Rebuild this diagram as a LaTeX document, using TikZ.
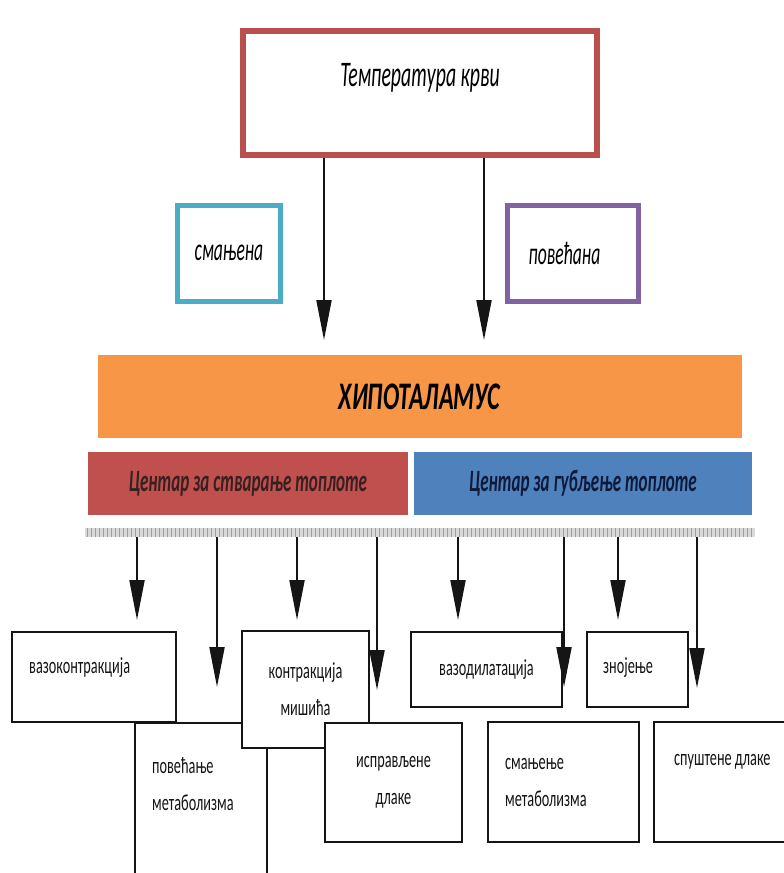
\documentclass[tikz,border=0pt]{standalone}
\usepackage{fontspec}
\setmainfont{Carlito}[FakeStretch=0.62]
\newfontfamily\narrowfont{Carlito}[FakeStretch=0.55]
\usepackage{tikz}
\usetikzlibrary{arrows.meta,calc,positioning}
\definecolor{ink}{HTML}{151515}
\definecolor{bloodred}{HTML}{B9504E}
\definecolor{teal}{HTML}{4BACC6}
\definecolor{purple}{HTML}{8064A2}
\definecolor{hypo}{HTML}{F79646}
\definecolor{heat}{HTML}{C0504D}
\definecolor{cool}{HTML}{4F81BD}
\definecolor{navy}{HTML}{0E1A3A}

\begin{document}
\begin{tikzpicture}[x=1pt,y=-1pt,
    outbox/.style={draw=ink,line width=1.8pt,fill=white,inner sep=0pt},
    arr/.style={-{Triangle[length=40pt,width=15pt]},line width=2pt,ink},
    btext/.style={font=\fontsize{23}{37}\selectfont,text=ink,inner sep=0pt}]
        \useasboundingbox (0,0) rectangle (784,873);
        % blood temperature and its two cases
        \node[draw=bloodred,line width=6pt,fill=white,minimum width=354,minimum height=124] (temp) at (420,93) {};
        \node[font=\narrowfont\itshape\fontsize{36}{40}\selectfont] (temp-t) at (420,78) {Температура крви};
        \node[draw=teal,line width=5pt,minimum width=103,minimum height=96,font=\narrowfont\itshape\fontsize{32}{36}\selectfont] (low) at (229,253) {смањена};
        \node[draw=purple,line width=5pt,minimum width=131,minimum height=96,font=\narrowfont\itshape\fontsize{32}{36}\selectfont] (high) at (572.5,253) {\hspace*{-16pt}повећана};
        \coordinate (t1) at (324,340);
        \coordinate (t2) at (484,340);
        \draw[arr] (temp.south -| t1) -- (t1);
        \draw[arr] (temp.south -| t2) -- (t2);
        % hypothalamus and its centres
        \node[fill=hypo,minimum width=644,minimum height=83,font=\bfseries\itshape\fontsize{39}{42}\selectfont] (hyp) at (419.5,396.5) {ХИПОТАЛАМУС};
        \node[fill=heat,minimum width=320,minimum height=63,text=ink!80!heat,font=\narrowfont\bfseries\itshape\fontsize{31}{34}\selectfont] (gain) at (248,483.5) {Центар за стварање топлоте};
        \node[fill=cool,minimum width=338,minimum height=63,text=navy,font=\narrowfont\bfseries\itshape\fontsize{31}{34}\selectfont] (loss) at (583,483.5) {Центар за губљење топлоте};
        \node[fill=gray!30,minimum width=670,minimum height=9,inner sep=0pt] (bar) at (420,532.5) {};
        \foreach \x in {87,91,...,753}
          \draw[gray!75,line width=0.8pt] (\x,528) -- (\x,537);
        % responses
        \node[outbox,minimum width=132,minimum height=167] (povmet) at (201,806.5) {};
        \node[btext,anchor=west,align=left] (povmet-t) at (152,784) {повећање\\метаболизма};
        \node[outbox,minimum width=164,minimum height=90] (vazok) at (94,677) {};
        \node[btext,anchor=west] (vazok-t) at (29,668) {вазоконтракција};
        \node[outbox,minimum width=127,minimum height=117,btext,align=center] (kontr) at (305.5,689.5) {контракција\\мишића};
        \node[outbox,minimum width=137,minimum height=119,btext,align=center] (ispr) at (393.5,782.5) {исправљене\\длаке};
        \node[outbox,minimum width=151,minimum height=75,btext] (vazod) at (486.5,669.5) {вазодилатација};
        \node[outbox,minimum width=101,minimum height=75] (znoj) at (637.5,669.5) {};
        \node[btext,anchor=west] (znoj-t) at (603,668) {знојење};
        \node[outbox,minimum width=151,minimum height=120] (smmet) at (563.5,782) {};
        \node[btext,anchor=west,align=left] (smmet-t) at (505,782.5) {смањење\\метаболизма};
        \node[outbox,minimum width=146,minimum height=120] (spust) at (727,782) {};
        \node[btext,anchor=west] (spust-t) at (674,762) {спуштене длаке};
        % arrow ends
        \coordinate (a1) at (137,620);
        \coordinate (a2) at (217,687);
        \coordinate (a3) at (297,620);
        \coordinate (a4) at (377,690);
        \coordinate (a5) at (458,620);
        \coordinate (a6) at (564,687);
        \coordinate (a7) at (618,620);
        \coordinate (a8) at (697,688);
        \foreach \a in {a1,a2,a3,a4,a5,a6,a7,a8}
          \draw[arr] (bar.south -| \a) -- (\a);
      \end{tikzpicture}
\end{document}
